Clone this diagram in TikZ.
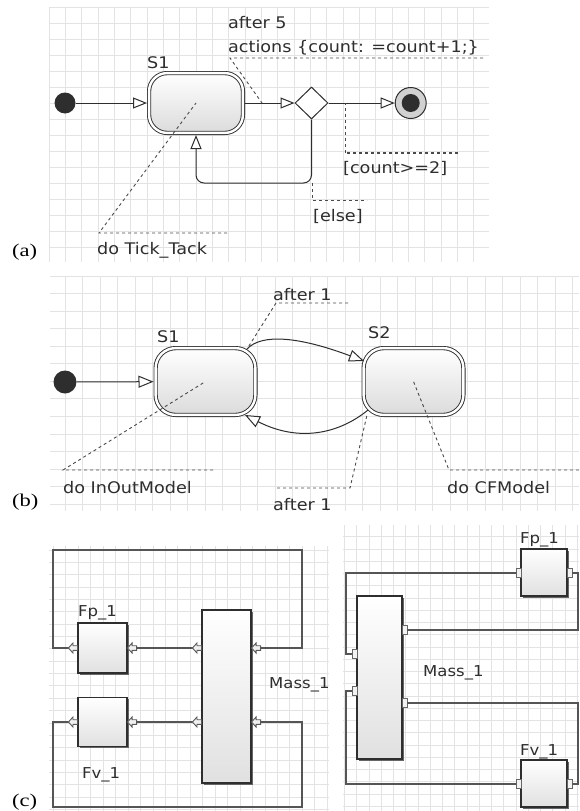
\documentclass[tikz,border=0pt]{standalone}
\usepackage{fontspec}
\newfontfamily\dfont[FakeStretch=1.1]{DejaVu Sans}
\newfontfamily\lblfont[FakeStretch=1.25]{Liberation Serif}
\usetikzlibrary{arrows.meta,shapes.geometric,shadows,calc}
\definecolor{ink}{HTML}{2E2E2E}
\definecolor{gridc}{HTML}{E3E3E3}
\definecolor{wirec}{HTML}{555555}
\definecolor{leadc}{HTML}{4A4A4A}
\tikzset{
  txt/.style={anchor=base west, inner sep=0pt, text=ink, font=\dfont\fontsize{16}{19}\selectfont},
  txtc/.style={anchor=base west, inner sep=0pt, text=ink, font=\dfont\fontsize{15}{18}\selectfont},
  plabel/.style={anchor=base west, inner sep=0pt, font=\lblfont\fontsize{18}{21}\selectfont},
  gridline/.style={draw=gridc, line width=0.8pt},
  statebox/.style={rectangle, rounded corners=18pt, draw=ink, double=white, double distance=2.4pt,
    line width=0.9pt, top color=white, bottom color=black!14, inner sep=0pt, outer sep=2.1pt},
  initdot/.style={circle, fill=ink, inner sep=0pt},
  finalring/.style={circle, draw=ink, line width=1pt, fill=black!18, minimum size=31pt, inner sep=0pt},
  finaldot/.style={circle, fill=ink, minimum size=18pt, inner sep=0pt},
  decision/.style={diamond, draw=ink, line width=1pt, fill=white, minimum width=33pt, minimum height=32pt, inner sep=0pt},
  conn/.style={draw=ink, line width=1pt, -{Triangle[length=14pt, width=11pt, fill=white]}},
  connb/.style={draw=ink, line width=1pt, -{Triangle[length=15pt, width=12pt, fill=white]}},
  leader/.style={draw=leadc, line width=0.9pt, dash pattern=on 3pt off 3pt},
  wire/.style={draw=wirec, line width=1.1pt},
  block/.style={rectangle, draw=ink, line width=1.1pt, top color=white, bottom color=black!12, inner sep=0pt,
    drop shadow={shadow xshift=1.6pt, shadow yshift=-1.6pt, fill=black!60, opacity=1}},
  portsq/.style={rectangle, draw=black!60, fill=black!5, line width=0.8pt, minimum width=5pt, minimum height=9pt, inner sep=0pt},
  portarr/.pic={\draw[draw=black!65, fill=black!6, line width=0.9pt]
    (0,0) -- (4.5,-5) -- (4.5,-2.3) -- (9,-2.3) -- (9,2.3) -- (4.5,2.3) -- (4.5,5) -- cycle;}
}
\begin{document}
\begin{tikzpicture}[x=1pt, y=-1pt]
\useasboundingbox (0,0) rectangle (579,811);
\fill[white] (0,0) rectangle (579,811);

% ---------- grids ----------
\begin{scope}
  \clip (49,7) rectangle (489,262);
  \foreach \k in {0,...,27} \draw[gridline] ({49+\k*16.33},7) -- ++(0,255);
  \foreach \k in {0,...,16} \draw[gridline] (49,{7+\k*16}) -- ++(440,0);
\end{scope}
\begin{scope}
  \clip (50,276) rectangle (579,511);
  \foreach \k in {0,...,30} \draw[gridline] ({47.5+\k*17.5},276) -- ++(0,235);
  \foreach \k in {0,...,13} \draw[gridline] (50,{276+\k*17.55}) -- ++(529,0);
\end{scope}
\begin{scope}
  \clip (49,546) rectangle (329,811);
  \foreach \k in {0,...,23} \draw[gridline] ({40.85+\k*12.45},546) -- ++(0,265);
  \foreach \k in {0,...,22} \draw[gridline] (49,{537.65+\k*12.35}) -- ++(280,0);
\end{scope}
\begin{scope}
  \clip (343,525) rectangle (579,811);
  \foreach \k in {0,...,19} \draw[gridline] ({344.45+\k*12.25},525) -- ++(0,286);
  \foreach \k in {0,...,24} \draw[gridline] (343,{524.5+\k*12.25}) -- ++(236,0);
\end{scope}

% ---------- panel (a) ----------
\node[initdot, minimum size=21pt] (a-init) at (65,103) {};
\node[statebox, minimum width=93.8pt, minimum height=59.8pt] (a-s1) at (196,103) {};
\node[decision] (a-dec) at (311.5,103) {};
\node[finalring] (a-fin) at (410.7,103) {};
\node[finaldot] (a-fin-in) at (a-fin) {};
\draw[conn] (a-init) -- (a-s1);
\draw[conn] (a-s1) -- (a-dec);
\draw[conn] (a-dec) -- (a-fin);
\coordinate (a-loop) at (0,183);
\draw[conn, rounded corners=8pt] (a-dec.south) -- (a-dec.south |- a-loop) -- (a-s1.south |- a-loop) -- (a-s1.south);

\node[txt] (a-s1-lbl) at (147,68) {S1};
\node[txt] (a-t1) at (228,28) {after 5};
\node[txt] (a-t2) at (228,52) {actions \{count: =count+1;\}};
\node[txt] (a-g1) at (343,173) {[count>=2]};
\node[txt] (a-g2) at (313,221) {[else]};
\node[txt] (a-do) at (97,254) {do Tick\_Tack};
\node[plabel] (a-lbl) at (12,256) {(a)};

\coordinate (a-u1l) at (230,58); \coordinate (a-u1r) at (483,58); \coordinate (a-p1) at (262,103);
\draw[leader] (a-u1r) -- (a-u1l) -- (a-p1);
\coordinate (a-u2l) at (345,153); \coordinate (a-u2r) at (458,153); \coordinate (a-p2) at (345,103);
\draw[leader, line width=1.6pt] (a-u2r) -- (a-u2l);
\draw[leader] (a-u2l) -- (a-p2);
\coordinate (a-p3) at (312,183); \coordinate (a-u3l) at (312,200); \coordinate (a-u3r) at (367,200);
\draw[leader] (a-p3) -- (a-u3l) -- (a-u3r);
\coordinate (a-u4l) at (99,233); \coordinate (a-u4r) at (227,233);
\draw[leader] (a-u4r) -- (a-u4l) -- (a-s1.center);

% ---------- panel (b) ----------
\node[initdot, minimum size=23pt] (b-init) at (65,382) {};
\node[statebox, rounded corners=20pt, minimum width=99.8pt, minimum height=66.8pt] (b-s1) at (205.5,381.5) {};
\node[statebox, rounded corners=20pt, minimum width=99.8pt, minimum height=66.8pt] (b-s2) at (413.5,381.5) {};
\draw[connb] (b-init) -- (b-s1);
\coordinate (b-p1) at (247,349);
\coordinate (b-p2) at (364,361);
\draw[connb] (b-p1) .. controls (262,333) and (300,337) .. (b-p2);
\coordinate (b-p3) at (368,410);
\coordinate (b-p4) at (245,415);
\draw[connb] (b-p3) .. controls (340,433) and (300,443) .. (b-p4);

\node[txt] (b-s1-lbl) at (157,342) {S1};
\node[txt] (b-s2-lbl) at (368,338) {S2};
\node[txt] (b-t1) at (273,300) {after 1};
\node[txt] (b-t2) at (273,510) {after 1};
\node[txt] (b-do1) at (63,493) {do InOutModel};
\node[txt] (b-do2) at (447,493) {do CFModel};
\node[plabel] (b-lbl) at (12,506) {(b)};

\coordinate (b-u1l) at (276,303); \coordinate (b-u1r) at (348,303);
\draw[leader] (b-u1r) -- (b-u1l) -- (b-p1);
\coordinate (b-u2l) at (277,488); \coordinate (b-u2r) at (350,488); \coordinate (b-q2) at (367,415);
\draw[leader] (b-u2l) -- (b-u2r) -- (b-q2);
\coordinate (b-u3l) at (63,470); \coordinate (b-u3r) at (213,470);
\draw[leader] (b-u3r) -- (b-u3l) -- (b-s1.center);
\coordinate (b-u4l) at (449,470); \coordinate (b-u4r) at (579,470);
\draw[leader] (b-u4r) -- (b-u4l) -- (b-s2.center);

% ---------- panel (c) left ----------
\node[block, minimum width=49pt, minimum height=50pt] (c-fp) at (102.5,648) {};
\node[block, minimum width=49pt, minimum height=49pt] (c-fv) at (102.5,722) {};
\node[block, minimum width=49pt, minimum height=173pt] (c-m) at (226.5,696.5) {};
\coordinate (c-tl) at (53,550); \coordinate (c-tr) at (302,550);
\coordinate (c-bl) at (53,807); \coordinate (c-br) at (302,807);
\draw[wire] (c-fp.west) -- (c-fp.west -| c-tl) -- (c-tl) -- (c-tr) -- (c-tr |- c-fp.west) -- (c-m.east |- c-fp.west);
\draw[wire] (c-fp.east) -- (c-m.west |- c-fp.east);
\draw[wire] (c-fv.east) -- (c-m.west |- c-fv.east);
\draw[wire] (c-fv.west) -- (c-fv.west -| c-bl) -- (c-bl) -- (c-br) -- (c-br |- c-fv.west) -- (c-m.east |- c-fv.west);
\pic at ($(c-fp.west)+(-9,0)$) {portarr};
\pic at (c-fp.east) {portarr};
\pic at ($(c-m.west |- c-fp.east)+(-9,0)$) {portarr};
\pic at (c-m.east |- c-fp.east) {portarr};
\pic at ($(c-fv.west)+(-9,0)$) {portarr};
\pic at (c-fv.east) {portarr};
\pic at ($(c-m.west |- c-fv.east)+(-9,0)$) {portarr};
\pic at (c-m.east |- c-fv.east) {portarr};

\node[txtc] (c-fp-lbl) at (78,616) {Fp\_1};
\node[txtc] (c-fv-lbl) at (82,778) {Fv\_1};
\node[txtc] (c-m-lbl) at (269,688) {Mass\_1};
\node[plabel] (c-lbl) at (12,806) {(c)};

% ---------- panel (c) right ----------
\node[block, minimum width=46pt, minimum height=47pt] (d-fp) at (544,572.5) {};
\node[block, minimum width=46pt, minimum height=47pt] (d-fv) at (544,783.5) {};
\node[block, minimum width=45pt, minimum height=163pt] (d-m) at (379.5,677.5) {};
\coordinate (d-lx) at (346,0); \coordinate (d-rx) at (578,0);
\node[portsq] (d-fp-in) at (518.5,573) {};
\node[portsq] (d-fp-out) at (569.5,573) {};
\node[portsq] (d-fv-in) at (518.5,784) {};
\node[portsq] (d-fv-out) at (569.5,784) {};
\node[portsq] (d-m-o1) at (404.5,630) {};
\node[portsq] (d-m-o2) at (404.5,703) {};
\node[portsq] (d-m-i1) at (354.5,654) {};
\node[portsq] (d-m-i2) at (354.5,691) {};
\draw[wire] (d-fp-in.west) -- (d-fp-in.west -| d-lx) -- (d-lx |- d-m-i1.west) -- (d-m-i1.west);
\draw[wire] (d-m-o1.east) -- (d-m-o1.east -| d-rx) -- (d-rx |- d-fp-out.east) -- (d-fp-out.east);
\draw[wire] (d-m-o2.east) -- (d-m-o2.east -| d-rx) -- (d-rx |- d-fv-out.east) -- (d-fv-out.east);
\draw[wire] (d-fv-in.west) -- (d-fv-in.west -| d-lx) -- (d-lx |- d-m-i2.west) -- (d-m-i2.west);

\node[txtc] (d-fp-lbl) at (520,543) {Fp\_1};
\node[txtc] (d-m-lbl) at (423,676) {Mass\_1};
\node[txtc] (d-fv-lbl) at (520,755) {Fv\_1};
\end{tikzpicture}
\end{document}
